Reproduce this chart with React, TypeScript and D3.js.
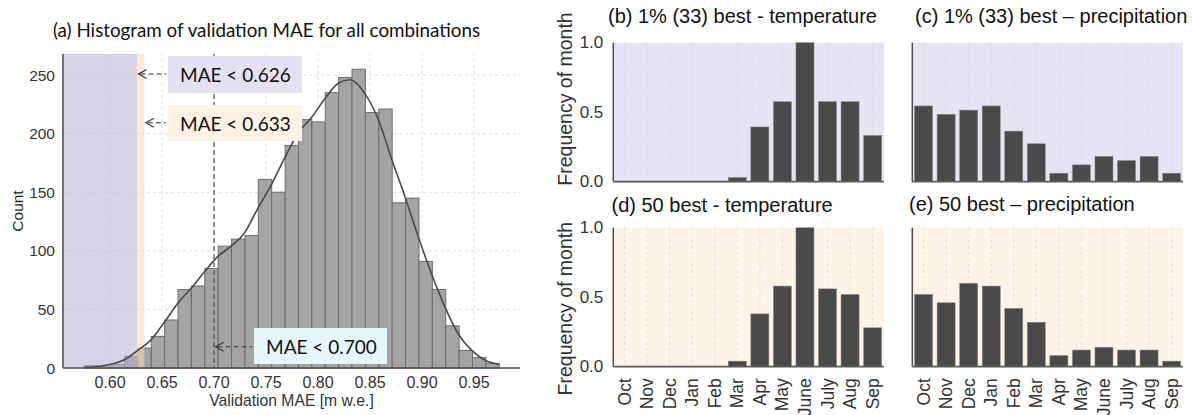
import React from "react";
import * as d3 from "d3";

// ---------- data ----------
const histStart = 0.5753;
const histBinWidth = 0.01287;
const histCounts = [2, 1, 3, 10, 17, 27, 41, 67, 70, 85, 104, 110, 113, 161, 150, 190, 212, 210, 235, 248, 255, 218, 221, 141, 145, 91, 67, 36, 15, 9, 4];

const kdeX = [0.575, 0.59, 0.6138, 0.6266, 0.6394, 0.6522, 0.665, 0.678, 0.6907, 0.7035, 0.7163, 0.7291, 0.742, 0.7555, 0.7683, 0.7811, 0.7939, 0.8067, 0.8195, 0.8308, 0.8452, 0.858, 0.8709, 0.8837, 0.8964, 0.9093, 0.9221, 0.9349, 0.9478, 0.9606, 0.9743];
const kdeY = [0.5, 1.5, 7, 15, 24, 39, 55, 68, 82, 95, 104, 115, 136, 157, 180, 201, 214, 230, 243, 246, 234, 212, 178, 146, 112, 80, 52, 29, 15, 6.6, 3];

const histXTicks = [0.6, 0.65, 0.7, 0.75, 0.8, 0.85, 0.9, 0.95];
const histYTicks = [0, 50, 100, 150, 200, 250];

const thresholds = [0.626, 0.633, 0.7];
const thresholdLabels = ["MAE < 0.626", "MAE < 0.633", "MAE < 0.700"];

const months = ["Oct", "Nov", "Dec", "Jan", "Feb", "Mar", "Apr", "May", "June", "July", "Aug", "Sep"];
const tempBest1pct = [0, 0, 0, 0, 0, 0.03, 0.394, 0.576, 1.0, 0.576, 0.576, 0.333];
const precBest1pct = [0.545, 0.485, 0.515, 0.545, 0.364, 0.273, 0.061, 0.121, 0.182, 0.152, 0.182, 0.061];
const tempBest50 = [0, 0, 0, 0, 0, 0.04, 0.38, 0.58, 1.0, 0.56, 0.52, 0.28];
const precBest50 = [0.52, 0.46, 0.6, 0.58, 0.42, 0.32, 0.08, 0.12, 0.14, 0.12, 0.12, 0.04];
const freqTicks = [0, 0.5, 1.0];

const panelTitles = [
  "(b) 1% (33) best - temperature",
  "(c) 1% (33) best \u2013 precipitation",
  "(d) 50 best - temperature",
  "(e) 50 best \u2013 precipitation",
];

// ---------- styles ----------
const SANS = "'Liberation Sans', Arial, sans-serif";
const LATO = "Lato, 'Open Sans', sans-serif";
const PURPLE_BG = "#e6e4f2";
const ORANGE_BG = "#fdf3e6";

function Histogram() {
  const x = d3.scaleLinear().domain([0.5548, 0.9942]).range([63, 520]);
  const y = d3.scaleLinear().domain([0, 268]).range([368, 54]);
  const line = d3
    .line<number>()
    .x((_, i) => x(kdeX[i]))
    .y((d) => y(d))
    .curve(d3.curveMonotoneX);
  const [x0, x1] = x.range();
  const [yb, yt] = y.range();

  const boxes = [
    { bx: 168, by: 56, bw: 134, bh: 37, fill: "#e4e2f2", ay: 74 },
    { bx: 168, by: 105, bw: 134, bh: 36, fill: "#fdf2e4", ay: 122.7 },
    { bx: 254, by: 328, bw: 133, bh: 36, fill: "#e5f6fc", ay: 346.7 },
  ];

  return (
    <g>
      {histXTicks.map((t) => (
        <line key={"gx" + t} x1={x(t)} x2={x(t)} y1={yb} y2={yt} stroke="#dcdcdc" strokeDasharray="3,3" strokeWidth={0.8} />
      ))}
      {histYTicks.map((t) => (
        <line key={"gy" + t} x1={x0} x2={x1} y1={y(t)} y2={y(t)} stroke="#dcdcdc" strokeDasharray="3,3" strokeWidth={0.8} />
      ))}
      {histCounts.map((c, i) => {
        const a = histStart + i * histBinWidth;
        const b = a + histBinWidth;
        return (
          <rect key={"b" + i} x={x(a)} y={y(c)} width={x(b) - x(a)} height={yb - y(c)} fill="#a4a4a4" stroke="#6c6c6c" strokeWidth={1} />
        );
      })}
      <rect x={x0} y={yt} width={x(thresholds[0]) - x0} height={yb - yt} fill="#b7b1d8" opacity={0.55} />
      <rect x={x(thresholds[0])} y={yt} width={x(thresholds[1]) - x(thresholds[0])} height={yb - yt} fill="#fbd9a8" opacity={0.55} />
      <path d={line(kdeY) || ""} fill="none" stroke="#4a4a4a" strokeWidth={1.6} />
      <line x1={x(thresholds[2])} x2={x(thresholds[2])} y1={yt} y2={yb} stroke="#555" strokeWidth={1.2} strokeDasharray="5,3" />
      <line x1={x0} x2={x0} y1={yt} y2={yb} stroke="#4d4d4d" strokeWidth={1.5} />
      <line x1={x0} x2={x1} y1={yb} y2={yb} stroke="#4d4d4d" strokeWidth={1.5} />
      {histXTicks.map((t) => (
        <text key={"tx" + t} x={x(t)} y={388} textAnchor="middle" fontFamily={SANS} fontSize={16} fill="#333">
          {t.toFixed(2)}
        </text>
      ))}
      {histYTicks.map((t) => (
        <text key={"ty" + t} x={55} y={y(t)} textAnchor="end" dominantBaseline="central" fontFamily={SANS} fontSize={15.5} fill="#333">
          {t}
        </text>
      ))}
      <text x={(x0 + x1) / 2} y={405.5} textAnchor="middle" fontFamily={SANS} fontSize={15.7} fill="#333">
        Validation MAE [m w.e.]
      </text>
      <text transform={`translate(17,${(yb + yt) / 2}) rotate(-90)`} textAnchor="middle" dominantBaseline="central" fontFamily={SANS} fontSize={15.5} fill="#222">
        Count
      </text>
      <text x={266.5} y={37} textAnchor="middle" fontFamily={LATO} fontSize={18.8} fill="#111">
        (a) Histogram of validation MAE for all combinations
      </text>
      {boxes.map((bx, i) => {
        const tip = x(thresholds[i]) + 1.5;
        return (
          <g key={"box" + i}>
            <rect x={bx.bx} y={bx.by} width={bx.bw} height={bx.bh} fill={bx.fill} />
            <text x={bx.bx + 12} y={bx.by + bx.bh / 2} dominantBaseline="central" fontFamily={LATO} fontSize={19} fill="#111">
              {thresholdLabels[i]}
            </text>
            <line x1={tip + 2} x2={bx.bx - 2} y1={bx.ay} y2={bx.ay} stroke="#333" strokeWidth={1.1} strokeDasharray="5,3" />
            <path d={`M${tip + 8},${bx.ay - 4.5} L${tip},${bx.ay} L${tip + 8},${bx.ay + 4.5}`} fill="none" stroke="#333" strokeWidth={1.1} />
          </g>
        );
      })}
    </g>
  );
}

type PanelProps = {
  values: number[];
  left: number;
  top: number;
  bg: string;
  title: string;
  titleX: number;
  titleY: number;
  showY: boolean;
  showX: boolean;
  ylabelY: number;
};

function BarPanel({ values, left, top, bg, title, titleX, titleY, showY, showX, ylabelY }: PanelProps) {
  const width = 270.6;
  const height = 139;
  const x = d3.scaleBand<string>().domain(months).range([left, left + width]).paddingInner(0.2).paddingOuter(0.1);
  const y = d3.scaleLinear().domain([0, 1]).range([top + height, top]);
  const cx = (m: string) => (x(m) || 0) + x.bandwidth() / 2;
  return (
    <g>
      <rect x={left} y={top} width={width} height={height} fill={bg} />
      {months.map((m) => (
        <line key={"g" + m} x1={cx(m)} x2={cx(m)} y1={top} y2={top + height} stroke="#d6d2d8" strokeDasharray="3,3" strokeWidth={0.7} />
      ))}
      {values.map((v, i) => (
        <rect key={"r" + i} x={x(months[i])} y={y(v)} width={x.bandwidth()} height={y(0) - y(v)} fill="#4a4a4a" stroke="#8a8a8a" strokeWidth={0.5} />
      ))}
      <line x1={left} x2={left} y1={top} y2={top + height} stroke="#4d4d4d" strokeWidth={1.5} />
      <line x1={left} x2={left + width} y1={top + height} y2={top + height} stroke="#5a5a5a" strokeWidth={1.8} />
      {showY &&
        freqTicks.map((t) => (
          <text key={"yt" + t} x={left - 10} y={y(t)} textAnchor="end" dominantBaseline="central" fontFamily={SANS} fontSize={17} fill="#333">
            {t.toFixed(1)}
          </text>
        ))}
      {showY && (
        <text transform={`translate(565,${ylabelY}) rotate(-90)`} textAnchor="middle" dominantBaseline="central" fontFamily={SANS} fontSize={19.5} fill="#333">
          Frequency of month
        </text>
      )}
      {showX &&
        months.map((m) => (
          <text key={"xt" + m} transform={`translate(${cx(m)},${top + height + 11.5}) rotate(-90)`} textAnchor="end" dominantBaseline="central" fontFamily={SANS} fontSize={17.5} fill="#333">
            {m}
          </text>
        ))}
      <text x={titleX} y={titleY} fontFamily={SANS} fontSize={20} fill="#111">
        {title}
      </text>
    </g>
  );
}

export default function App() {
  return (
    <svg width={1192} height={415} style={{ position: "absolute", left: 0, top: 0, background: "#fff" }}>
      <Histogram />
      <BarPanel values={tempBest1pct} left={613.3} top={42.7} bg={PURPLE_BG} title={panelTitles[0]} titleX={608} titleY={23.3} showY showX={false} ylabelY={99} />
      <BarPanel values={precBest1pct} left={912.3} top={42.7} bg={PURPLE_BG} title={panelTitles[1]} titleX={915} titleY={23.3} showY={false} showX={false} ylabelY={99} />
      <BarPanel values={tempBest50} left={613.3} top={227.7} bg={ORANGE_BG} title={panelTitles[2]} titleX={611.5} titleY={211.7} showY showX ylabelY={308.7} />
      <BarPanel values={precBest50} left={912.3} top={227.7} bg={ORANGE_BG} title={panelTitles[3]} titleX={909} titleY={210.5} showY={false} showX ylabelY={308.7} />
    </svg>
  );
}
